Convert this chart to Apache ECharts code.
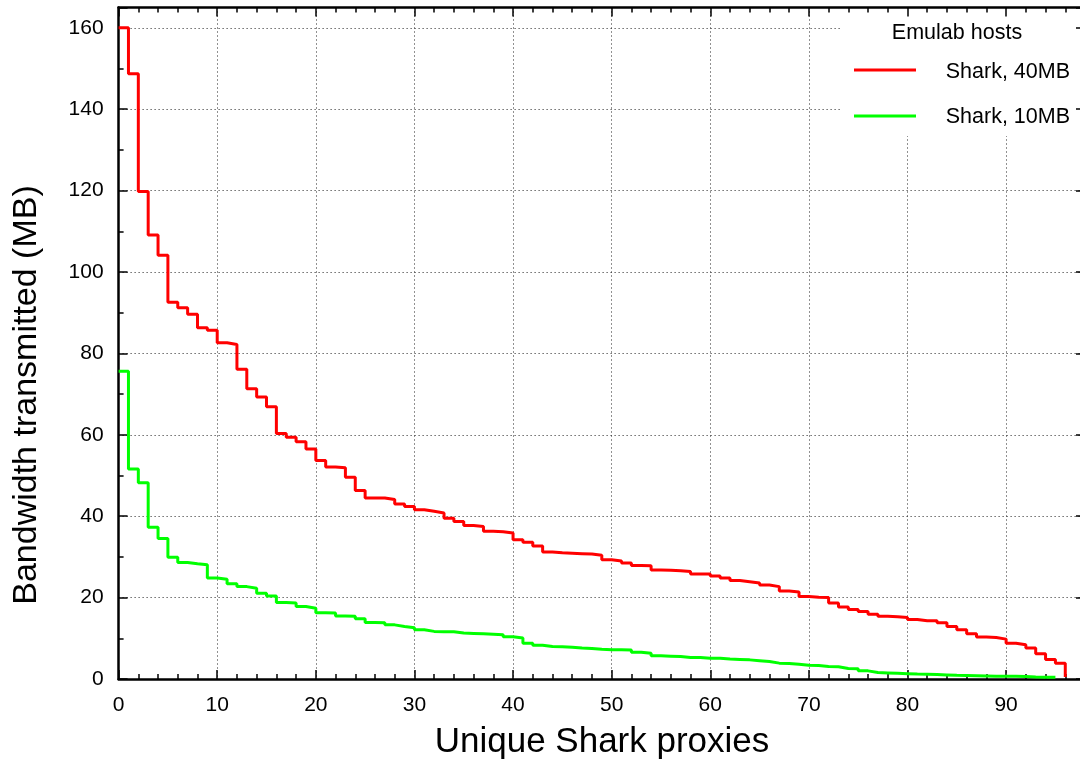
<!DOCTYPE html>
<html>
<head>
<meta charset="utf-8">
<title>Bandwidth transmitted per Shark proxy</title>
<script src="https://cdn.jsdelivr.net/npm/echarts@6/dist/echarts.min.js"></script>
<style>
  html, body { margin: 0; padding: 0; background: #fff; }
  #chart { width: 1080px; height: 761px; }
</style>
</head>
<body>
<div id="chart"></div>
<script>
// Bandwidth (MB) sent by each unique proxy, sorted in decreasing order.
const shark40MB = [
  160, 148.7, 119.8, 109.1, 104.1, 92.6, 91.2, 89.6, 86.3, 85.7,
  82.6, 82.2, 76.1, 71.3, 69.3, 66.9, 60.3, 59.4, 58.3, 56.5,
  53.7, 52.1, 51.9, 49.6, 46.3, 44.5, 44.5, 44.1, 43.0, 42.4,
  41.6, 41.2, 40.8, 39.5, 38.7, 37.7, 37.5, 36.3, 36.2, 35.9,
  34.2, 33.6, 32.7, 31.2, 31.0, 30.9, 30.8, 30.7, 30.4, 29.3,
  29.0, 28.5, 27.9, 27.8, 26.8, 26.7, 26.6, 26.4, 25.8, 25.8,
  25.3, 24.8, 24.2, 23.9, 23.6, 23.1, 22.7, 21.6, 21.4, 20.3,
  20.1, 20.0, 18.7, 17.7, 17.1, 16.6, 15.9, 15.4, 15.3, 15.1,
  14.6, 14.3, 14.3, 13.8, 12.9, 12.1, 11.1, 10.3, 10.2, 9.8,
  8.8, 8.4, 7.6, 6.2, 4.8, 3.9, 0.5
];
const shark10MB = [
  75.6, 51.6, 48.2, 37.3, 34.5, 29.9, 28.6, 28.3, 28.1, 24.8,
  24.5, 23.4, 22.7, 22.3, 21.1, 20.4, 18.8, 18.7, 17.8, 17.4,
  16.3, 16.2, 15.5, 15.4, 14.8, 13.9, 13.8, 13.3, 12.9, 12.6,
  12.1, 11.7, 11.6, 11.6, 11.3, 11.2, 11.1, 11.0, 10.9, 10.4,
  10.1, 8.8, 8.3, 8.0, 7.9, 7.8, 7.6, 7.5, 7.3, 7.2,
  7.2, 7.1, 6.6, 6.3, 5.7, 5.6, 5.5, 5.3, 5.3, 5.1,
  5.1, 4.9, 4.8, 4.7, 4.5, 4.3, 3.9, 3.8, 3.6, 3.4,
  3.3, 3.1, 3.0, 2.6, 2.5, 2.0, 1.6, 1.5, 1.4, 1.3,
  1.2, 1.15, 1.1, 1.0, 0.9, 0.85, 0.8, 0.75, 0.7, 0.68,
  0.65, 0.6, 0.5, 0.45, 0.4, 0.3
];
const seriesNames = ['Shark, 40MB', 'Shark, 10MB'];
const legendTitle = 'Emulab hosts';
const xTitle = 'Unique Shark proxies';
const yTitle = 'Bandwidth transmitted (MB)';

const FONT = '"Liberation Sans", Arial, Helvetica, sans-serif';
const X_MAX = 98, Y_MAX = 165;

const toPairs = arr => arr.map((v, i) => [i, v]);

const gridStyle = { type: [1, 3], color: '#222', width: 1 };
const hiddenLine = { show: false, onZero: false };
const borderLine = { show: true, onZero: false, lineStyle: { color: '#000', width: 2.5 } };

// Major and minor ticks live on separate, overlapping axes so that
// each set keeps its own spacing and length, drawn inward like a frame.
function xAx(pos, interval, opts) {
  return Object.assign({
    type: 'value', position: pos, min: 0, max: X_MAX, interval: interval,
    axisLine: hiddenLine,
    axisTick: { show: true, inside: true, length: interval === 10 ? 9 : 5,
      lineStyle: { color: '#000', width: 1.5 } },
    axisLabel: { show: false },
    splitLine: { show: false }
  }, opts || {});
}
function yAx(pos, interval, opts) {
  return Object.assign({
    type: 'value', position: pos, min: 0, max: Y_MAX, interval: interval,
    axisLine: hiddenLine,
    axisTick: { show: true, inside: true, length: interval === 20 ? 9 : 5,
      lineStyle: { color: '#000', width: 1.5 } },
    axisLabel: { show: false },
    splitLine: { show: false }
  }, opts || {});
}

const chart = echarts.init(document.getElementById('chart'), null, { renderer: 'canvas' });

chart.setOption({
  animation: false,
  backgroundColor: '#fff',
  grid: { left: 118.6, top: 7.5, right: -5, bottom: 82,
    containLabel: false, outerBoundsMode: 'none' },
  xAxis: [
    xAx('bottom', 10, {
      axisLine: borderLine,
      axisLabel: { show: true, color: '#000', fontSize: 21, fontFamily: FONT, margin: 16,
        formatter: v => (v % 10 === 0 ? String(v) : '') },
      splitLine: { show: true, lineStyle: gridStyle }
    }),
    xAx('bottom', 2),
    xAx('top', 10, { axisLine: borderLine, z: 3 }),
    xAx('top', 2, { z: 3 })
  ],
  yAxis: [
    yAx('left', 20, {
      axisLine: borderLine,
      axisLabel: { show: true, color: '#000', fontSize: 21, fontFamily: FONT, margin: 15,
        formatter: v => (v % 20 === 0 ? String(v) : '') },
      splitLine: { show: true, lineStyle: gridStyle }
    }),
    yAx('left', 10),
    yAx('right', 20, { axisLine: borderLine, z: 3 }),
    yAx('right', 10, { z: 3 })
  ],
  series: [
    {
      name: seriesNames[0], type: 'line', step: 'end', xAxisIndex: 0, yAxisIndex: 0,
      data: toPairs(shark40MB), symbol: 'none', z: 2,
      lineStyle: { color: '#ff0000', width: 3 }
    },
    {
      name: seriesNames[1], type: 'line', step: 'end', xAxisIndex: 0, yAxisIndex: 0,
      data: toPairs(shark10MB), symbol: 'none', z: 2,
      lineStyle: { color: '#00ff00', width: 3 }
    }
  ],
  graphic: [
    // opaque key box hiding the grid behind it
    { type: 'rect', z: 1, shape: { x: 842, y: 9, width: 245, height: 127 },
      style: { fill: '#fff' } },
    { type: 'text', z: 4, x: 957, y: 33,
      style: { text: legendTitle, fontSize: 21.5, fontFamily: FONT, fill: '#000',
        textAlign: 'center', align: 'center', textVerticalAlign: 'middle', verticalAlign: 'middle' } },
    { type: 'line', z: 4, shape: { x1: 854, y1: 70, x2: 916, y2: 70 },
      style: { stroke: '#ff0000', lineWidth: 3 } },
    { type: 'text', z: 4, x: 1070, y: 72,
      style: { text: seriesNames[0], fontSize: 21.5, fontFamily: FONT, fill: '#000',
        textAlign: 'right', align: 'right', textVerticalAlign: 'middle', verticalAlign: 'middle' } },
    { type: 'line', z: 4, shape: { x1: 854, y1: 116, x2: 916, y2: 116 },
      style: { stroke: '#00ff00', lineWidth: 3 } },
    { type: 'text', z: 4, x: 1070, y: 117,
      style: { text: seriesNames[1], fontSize: 21.5, fontFamily: FONT, fill: '#000',
        textAlign: 'right', align: 'right', textVerticalAlign: 'middle', verticalAlign: 'middle' } },
    // axis titles
    { type: 'text', x: 602, y: 742,
      style: { text: xTitle, fontSize: 35, fontFamily: FONT, fill: '#000',
        textAlign: 'center', align: 'center', textVerticalAlign: 'middle', verticalAlign: 'middle' } },
    { type: 'text', x: 27, y: 395, rotation: Math.PI / 2,
      style: { text: yTitle, fontSize: 34, fontFamily: FONT, fill: '#000',
        textAlign: 'center', align: 'center', textVerticalAlign: 'middle', verticalAlign: 'middle' } }
  ]
});
</script>
</body>
</html>
